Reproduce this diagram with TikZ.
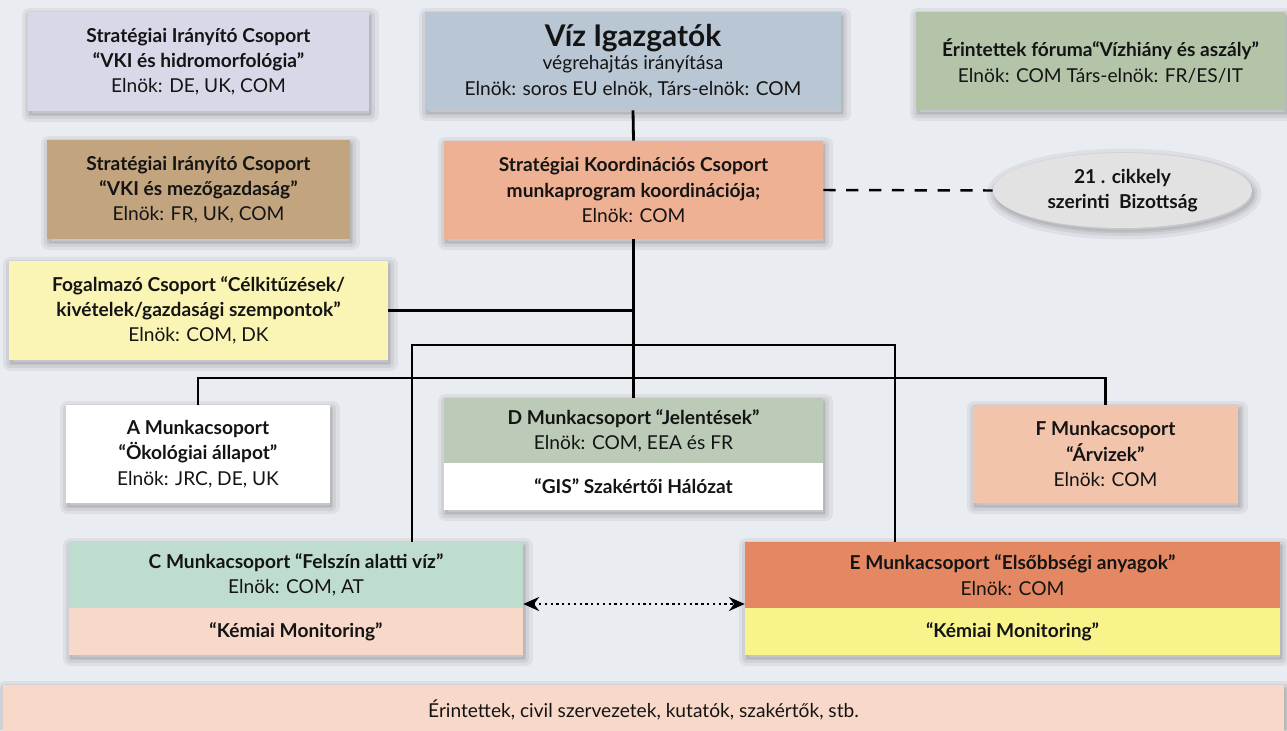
\documentclass[tikz,border=0pt]{standalone}
\usepackage{fontspec}
\setmainfont{Lato}
\usetikzlibrary{shapes.geometric,arrows.meta}
\definecolor{bg}{HTML}{E9ECF1}
\definecolor{cLav}{HTML}{D8D8E9}
\definecolor{cTan}{HTML}{C2A57F}
\definecolor{cViz}{HTML}{B9C6D4}
\definecolor{cGreen}{HTML}{B3C4A9}
\definecolor{cSKC}{HTML}{EFB193}
\definecolor{cEll}{HTML}{E2E2E2}
\definecolor{cFog}{HTML}{FAF5B5}
\definecolor{cDg}{HTML}{BBCBB8}
\definecolor{cF}{HTML}{F3C4AC}
\definecolor{cC}{HTML}{BFDDCE}
\definecolor{cPeach}{HTML}{F8D8C8}
\definecolor{cE}{HTML}{E38863}
\definecolor{cEy}{HTML}{F9F38B}
\definecolor{txt}{HTML}{141414}
\tikzset{
  softshadow/.style={
    preaction={draw=black, draw opacity=0.05, line width=9pt, line join=round,
      fill=black, fill opacity=0.05, transform canvas={xshift=1pt, yshift=-2pt}},
    preaction={draw=black, draw opacity=0.06, line width=5pt, line join=round,
      transform canvas={xshift=1pt, yshift=-2pt}},
    preaction={draw=black, draw opacity=0.07, line width=2pt, line join=round,
      transform canvas={xshift=1pt, yshift=-2pt}}},
  box/.style={rectangle, inner sep=2pt, align=center, text=txt,
    font=\fontsize{10.9}{14.4}\selectfont, softshadow},
  plain/.style={rectangle, inner sep=2pt, align=center, text=txt,
    font=\fontsize{10.9}{14.4}\selectfont},
  conn/.style={line width=1.6pt, black},
}
\begin{document}
\begin{tikzpicture}[x=0.02cm, y=-0.02cm]
\fill[bg] (0,0) rectangle (1287,730);
\useasboundingbox (0,0) rectangle (1287,730);

% top row
\node[box, fill=cLav, minimum width=6.82cm, minimum height=1.98cm] (sic1) at (198.5,61.5)
  {\textbf{Stratégiai Irányító Csoport}\\\textbf{“VKI és hidromorfológia”}\\Elnök: DE, UK, COM};
\node[box, fill=cViz, minimum width=8.32cm, minimum height=1.96cm] (viz) at (633,61)
  {{\fontsize{17}{19}\selectfont\textbf{Víz Igazgatók}}\\[-1pt]végrehajtás irányítása\\Elnök: soros EU elnök, Társ-elnök: COM};
\node[box, fill=cGreen, minimum width=7.38cm, minimum height=1.96cm] (erf) at (1100.5,61)
  {\textbf{Érintettek fóruma“Vízhiány és aszály”}\\Elnök: COM Társ-elnök: FR/ES/IT};

% second row
\node[box, fill=cTan, minimum width=6.06cm, minimum height=1.98cm] (sic2) at (198.5,189.5)
  {\textbf{Stratégiai Irányító Csoport}\\\textbf{“VKI és mezőgazdaság”}\\Elnök: FR, UK, COM};
\node[box, fill=cSKC, minimum width=7.58cm, minimum height=1.96cm] (skc) at (633.5,190)
  {\textbf{Stratégiai Koordinációs Csoport}\\\textbf{munkaprogram koordinációja;}\\Elnök: COM};
\node[box, ellipse, fill=cEll, minimum width=5.18cm, minimum height=1.5cm] (art) at (1122.5,190.5)
  {\textbf{21 . cikkely}\\\textbf{szerinti\ \ Bizottság}};

% drafting group
\node[box, fill=cFog, minimum width=7.58cm, minimum height=1.98cm] (fog) at (198.5,310.5)
  {\textbf{Fogalmazó Csoport “Célkitűzések/}\\\textbf{kivételek/gazdasági szempontok”}\\Elnök: COM, DK};

% working groups row 1
\node[box, fill=white, minimum width=5.28cm, minimum height=1.96cm] (wga) at (198,454)
  {\textbf{A Munkacsoport}\\\textbf{“Ökológiai állapot”}\\Elnök: JRC, DE, UK};
\node[box, fill=white, minimum width=7.58cm, minimum height=2.24cm] (wgdbox) at (633.5,454) {};
\node[plain, fill=cDg, minimum width=7.58cm, minimum height=1.30cm] (wgd) at (633.5,430.5)
  {\textbf{D Munkacsoport “Jelentések”}\\Elnök: COM, EEA és FR};
\node[plain, fill=white, minimum width=7.58cm, minimum height=0.94cm] (gis) at (633.5,486.5)
  {\textbf{“GIS” Szakértői Hálózat}};
\node[box, fill=cF, minimum width=5.30cm, minimum height=1.96cm] (wgf) at (1105.5,454)
  {\textbf{F Munkacsoport}\\\textbf{“Árvizek”}\\Elnök: COM};

% working groups row 2
\node[box, fill=cC, minimum width=9.08cm, minimum height=2.26cm] (wgcbox) at (296,598.5) {};
\node[plain, fill=cC, minimum width=9.08cm, minimum height=1.32cm] (wgc) at (296,575)
  {\textbf{C Munkacsoport “Felszín alatti víz”}\\Elnök: COM, AT};
\node[plain, fill=cPeach, minimum width=9.08cm, minimum height=0.94cm] (kmc) at (296,631.5)
  {\textbf{“Kémiai Monitoring”}};
\node[box, fill=cE, minimum width=10.70cm, minimum height=2.26cm] (wgebox) at (1012.5,598.5) {};
\node[plain, fill=cE, minimum width=10.70cm, minimum height=1.32cm] (wge) at (1012.5,575)
  {\textbf{E Munkacsoport “Elsőbbségi anyagok”}\\Elnök: COM};
\node[plain, fill=cEy, minimum width=10.70cm, minimum height=0.94cm] (kme) at (1012.5,631.5)
  {\textbf{“Kémiai Monitoring”}};

% bottom bar
\node[box, fill=cPeach, minimum width=25.62cm, minimum height=1.0cm] (stake) at (643.5,710)
  {Érintettek, civil szervezetek, kutatók, szakértők, stb.};

% connectors
\coordinate (jc) at (412,345);
\coordinate (je) at (895,345);
\coordinate (ja) at (0,378);
\draw[conn] (viz.south) -- (skc.north);
\draw[conn] (skc.south) -- (wgd.north);
\draw[conn] (fog.east) -- (fog.east -| skc.south);
\draw[conn] (wgc.north -| jc) |- (je) -- (wge.north -| je);
\draw[conn] (wga.north) |- (ja -| wgf.north) -- (wgf.north);
\draw[line width=1.4pt, dashed, dash pattern=on 7pt off 6pt] (skc.east) -- (art.west);
\draw[line width=1.3pt, dotted, {Stealth[length=9pt,width=8pt]}-{Stealth[length=9pt,width=8pt]}]
  (wgc.east |- 0,604) -- (wge.west |- 0,604);
\end{tikzpicture}
\end{document}
